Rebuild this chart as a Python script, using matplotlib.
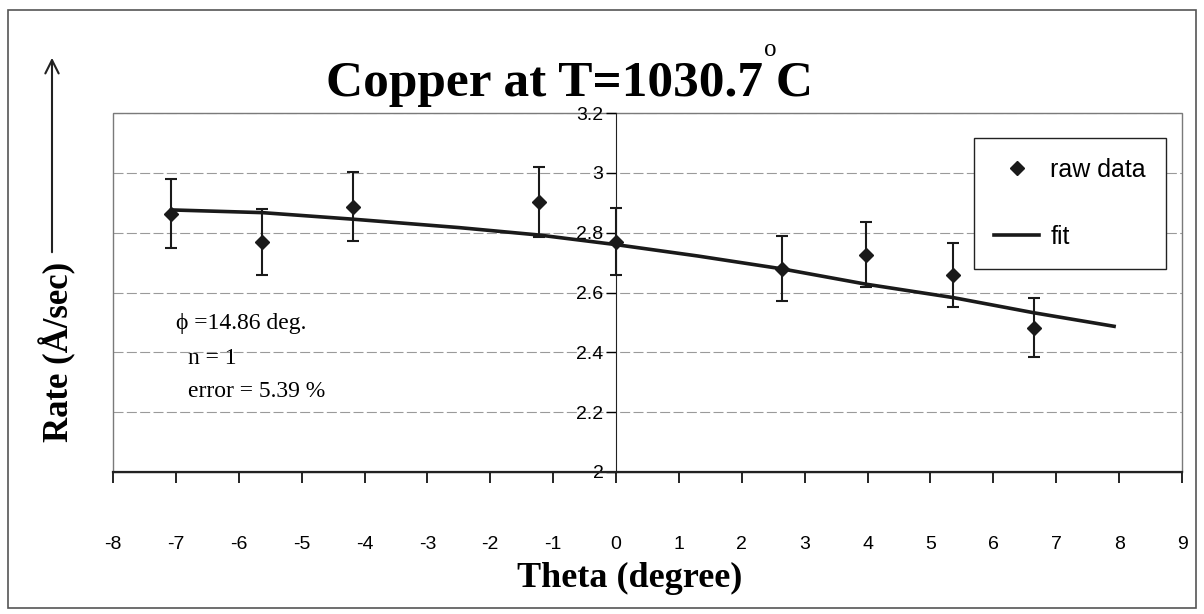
import numpy as np
import matplotlib.pyplot as plt
from matplotlib.lines import Line2D
from matplotlib.patches import Rectangle

# raw data
theta = [-7.07, -5.63, -4.18, -1.22, 0.0, 2.64, 3.97, 5.36, 6.65]
rate = [2.863, 2.770, 2.887, 2.903, 2.770, 2.680, 2.727, 2.660, 2.483]
rate_err = [0.115, 0.110, 0.115, 0.117, 0.112, 0.108, 0.108, 0.107, 0.097]

# fit curve, points
fit_theta = [-7.07, -5.63, -4.18, -2.5, -1.22, 0.0, 1.3, 2.64, 3.97, 5.36, 6.65, 7.92]
fit_rate = [2.876, 2.867, 2.845, 2.817, 2.792, 2.760, 2.722, 2.679, 2.628, 2.583, 2.532, 2.487]

xticks = list(range(-8, 10))
yticks = [2, 2.2, 2.4, 2.6, 2.8, 3, 3.2]
ytick_labels = ['2', '2.2', '2.4', '2.6', '2.8', '3', '3.2']

serif = ['Liberation Serif', 'DejaVu Serif']
sans = ['Liberation Sans', 'DejaVu Sans']

fig = plt.figure(figsize=(12.04, 6.14), dpi=100)
ax = fig.add_axes([113/1204, 1-472/614, (1182-113)/1204, (472-113)/614])

ax.set_xlim(-8, 9)
ax.set_ylim(2, 3.2)

# grid
for y in yticks[1:]:
    ax.axhline(y, color='#9a9a9a', lw=0.8, ls=(0, (9, 3)), zorder=0)

# plot area frame (gray)
ax.add_patch(Rectangle((0, 0), 1, 1, transform=ax.transAxes, fill=False,
                       ec='#7a7a7a', lw=1.0, zorder=0.5, clip_on=False))

for s in ['top', 'right']:
    ax.spines[s].set_visible(False)
ax.spines['left'].set_position(('data', 0))
ax.spines['left'].set_color('#222222')
ax.spines['bottom'].set_color('#222222')
ax.spines['bottom'].set_linewidth(1.6)

ax.plot(fit_theta, fit_rate, color='#1a1a1a', lw=2.6, zorder=3)
ax.errorbar(theta, rate, yerr=rate_err, fmt='D', color='#1a1a1a', ms=7,
            capsize=4.5, elinewidth=1.5, capthick=1.5, zorder=4)

ax.set_xticks(xticks)
ax.set_xticklabels([str(t) for t in xticks], family=sans, fontsize=14)
ax.set_yticks(yticks)
ax.set_yticklabels(ytick_labels, family=sans, fontsize=14)
ax.tick_params(axis='x', direction='out', length=8, width=1.2, pad=38)
ax.tick_params(axis='y', direction='out', length=7, width=1.0, pad=2)

ax.text(-7.0, 2.497, '\u03d5 =14.86 deg.', family=serif, fontsize=17, va='center')
ax.text(-6.8, 2.38, 'n = 1', family=serif, fontsize=17, va='center')
ax.text(-6.8, 2.27, 'error = 5.39 %', family=serif, fontsize=17, va='center')

handles = [Line2D([], [], ls='none', marker='D', color='#1a1a1a', ms=7),
           Line2D([], [], color='#1a1a1a', lw=2.6)]
leg = ax.legend(handles, ['raw data', 'fit'], loc='upper right',
                bbox_to_anchor=(0.985, 0.93), prop={'family': sans, 'size': 18},
                frameon=True, fancybox=False, framealpha=1, edgecolor='#222222',
                labelspacing=1.7, handlelength=1.8, borderpad=0.8,
                handletextpad=0.45, borderaxespad=0)
leg.get_frame().set_linewidth(1.0)

title = fig.text(570/1204, 1-96/614, 'Copper at T=1030.7 C', family=serif,
                 weight='bold', fontsize=37, ha='center', va='baseline')
fig.canvas.draw()
bb = title.get_window_extent()
# small raised "o" for the degree sign, just before the final C
fig.text((bb.x1 - 43)/1204, 1-50/614, 'o', family=serif, fontsize=18,
         ha='center', va='center')

fig.text(630/1204, 1-578/614, 'Theta (degree)', family=serif, weight='bold',
         fontsize=26, ha='center', va='center')
fig.text(58/1204, 1-352/614, 'Rate (\u00c5/sec)', family=serif, weight='bold',
         fontsize=25, ha='center', va='center', rotation=90)
ax.annotate('', xy=(52/1204, 1-55/614), xytext=(52/1204, 1-255/614),
            xycoords='figure fraction', textcoords='figure fraction',
            arrowprops=dict(arrowstyle='->', color='#222222', lw=1.5,
                            mutation_scale=24))

# outer frame
fig.add_artist(Rectangle((8/1204, 6/614), 1188/1204, 598/614, transform=fig.transFigure,
                         fill=False, ec='#555555', lw=1.2))

fig.savefig('out.png', dpi=100)
